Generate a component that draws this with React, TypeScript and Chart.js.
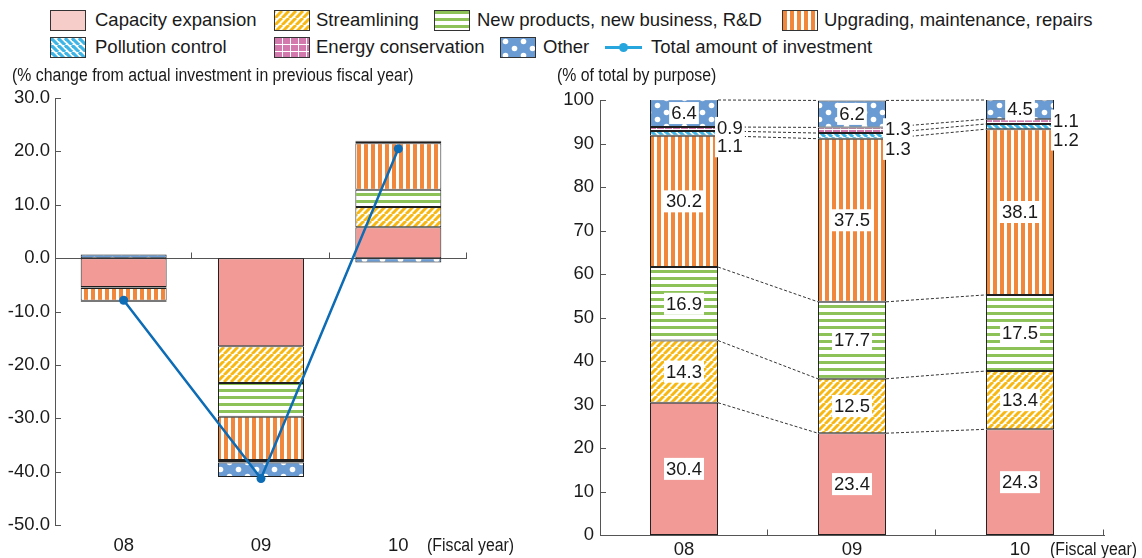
import React, { useEffect, useRef } from 'react';
import { Chart, registerables } from 'chart.js';

Chart.register(...registerables);

const FONT = "'Liberation Sans', Arial, Helvetica, sans-serif";
const TEXT = '#1a1a1a';

// Fiscal years
const years = ['08', '09', '10'];

// Investment purposes (stack order, bottom to top)
const purposes = [
  'Capacity expansion',
  'Streamlining',
  'New products, new business, R&D',
  'Upgrading, maintenance, repairs',
  'Pollution control',
  'Energy conservation',
  'Other',
];

// Contribution to % change from previous fiscal year (percentage points)
const changeCapacity = [-5.4, -16.5, 5.8];
const changeStreamlining = [-0.1, -6.9, 3.8];
const changeNewProducts = [-0.1, -6.3, 3.2];
const changeUpgrading = [-2.4, -8.1, 8.7];
const changePollution = [-0.1, -0.2, 0.3];
const changeEnergy = [-0.1, -0.3, 0.2];
const changeOther = [0.7, -2.7, -0.8];
const totalChange = [-7.9, -41.3, 20.5];

// Share of total investment by purpose (%)
const shareCapacity = [30.4, 23.4, 24.3];
const shareStreamlining = [14.3, 12.5, 13.4];
const shareNewProducts = [16.9, 17.7, 17.5];
const shareUpgrading = [30.2, 37.5, 38.1];
const sharePollution = [1.1, 1.3, 1.2];
const shareEnergy = [0.9, 1.3, 1.1];
const shareOther = [6.4, 6.2, 4.5];

// Axis ranges
const changeMin = -50;
const changeMax = 30;
const shareMin = 0;
const shareMax = 100;
const tickStep = 10;

type Fill = 'capacity' | 'streamlining' | 'newProducts' | 'upgrading' | 'pollution' | 'energy' | 'other';
const fills: Fill[] = ['capacity', 'streamlining', 'newProducts', 'upgrading', 'pollution', 'energy', 'other'];

const changeValues = [changeCapacity, changeStreamlining, changeNewProducts, changeUpgrading, changePollution, changeEnergy, changeOther];
const shareValues = [shareCapacity, shareStreamlining, shareNewProducts, shareUpgrading, sharePollution, shareEnergy, shareOther];
// where each share label sits: inside the segment, or beside the bar for the thin ones
const shareLabelPlace = ['center', 'center', 'center', 'center', 'below', 'beside', 'center'];

function makeTile(w: number, h: number, draw: (g: CanvasRenderingContext2D, w: number, h: number) => void) {
  const c = document.createElement('canvas');
  c.width = w;
  c.height = h;
  const g = c.getContext('2d') as CanvasRenderingContext2D;
  draw(g, w, h);
  return c;
}

function diagonal(color: string, rising: boolean, size: number, lw: number) {
  return makeTile(size, size, (g, w, h) => {
    g.fillStyle = '#ffffff';
    g.fillRect(0, 0, w, h);
    g.strokeStyle = color;
    g.lineWidth = lw;
    for (const o of [-w, 0, w]) {
      g.beginPath();
      if (rising) {
        g.moveTo(o, h);
        g.lineTo(o + w, 0);
      } else {
        g.moveTo(o, 0);
        g.lineTo(o + w, h);
      }
      g.stroke();
    }
  });
}

function buildTiles(): Record<Fill, HTMLCanvasElement> {
  return {
    capacity: makeTile(4, 4, (g, w, h) => {
      g.fillStyle = '#f29b96';
      g.fillRect(0, 0, w, h);
    }),
    streamlining: diagonal('#f7b813', true, 7, 3),
    newProducts: makeTile(4, 7, (g, w) => {
      g.fillStyle = '#ffffff';
      g.fillRect(0, 0, w, 7);
      g.fillStyle = '#8cc258';
      g.fillRect(0, 0, w, 3);
    }),
    upgrading: makeTile(7, 4, (g, w, h) => {
      g.fillStyle = '#ffffff';
      g.fillRect(0, 0, w, h);
      g.fillStyle = '#f0873a';
      g.fillRect(0, 0, 4, h);
    }),
    pollution: diagonal('#3fb5e6', false, 7, 3.2),
    energy: makeTile(8, 7, (g, w, h) => {
      g.fillStyle = '#d479ad';
      g.fillRect(0, 0, w, h);
      g.fillStyle = '#ffffff';
      g.fillRect(w - 1, 0, 1, h);
      g.fillRect(0, h - 1, w, 1);
    }),
    other: makeTile(18, 14, (g, w, h) => {
      g.fillStyle = '#6a9bd3';
      g.fillRect(0, 0, w, h);
      g.fillStyle = '#ffffff';
      for (const [cx, cy] of [[4.5, 3.5], [13.5, 10.5]]) {
        g.beginPath();
        g.arc(cx, cy, 2.8, 0, Math.PI * 2);
        g.fill();
      }
    }),
  };
}

function range(min: number, max: number, step: number) {
  const out: number[] = [];
  for (let v = min; v <= max + 1e-9; v += step) out.push(v);
  return out;
}

// Short tick marks pointing into the plot: on the value axis and at category boundaries
function innerTicks(baseAtZero: boolean) {
  return {
    id: 'innerTicks',
    beforeDatasetsDraw(chart: any) {
      const { ctx, chartArea, scales } = chart;
      const x = scales.x;
      const y = scales.y;
      ctx.save();
      ctx.strokeStyle = '#555';
      ctx.lineWidth = 1;
      range(y.min, y.max, tickStep).forEach((v) => {
        const py = Math.round(y.getPixelForValue(v)) + 0.5;
        ctx.beginPath();
        ctx.moveTo(chartArea.left, py);
        ctx.lineTo(chartArea.left + 6, py);
        ctx.stroke();
      });
      const base = Math.round(baseAtZero ? y.getPixelForValue(0) : chartArea.bottom) + 0.5;
      if (baseAtZero) {
        ctx.beginPath();
        ctx.moveTo(chartArea.left, base);
        ctx.lineTo(chartArea.right, base);
        ctx.stroke();
      }
      const half = (x.getPixelForValue(1) - x.getPixelForValue(0)) / 2;
      for (let i = 0; i < years.length; i++) {
        const px = Math.round(x.getPixelForValue(i) + half) - 0.5;
        ctx.beginPath();
        ctx.moveTo(px, base);
        ctx.lineTo(px, base - 6);
        ctx.stroke();
      }
      ctx.restore();
    },
  };
}

// Dashed lines joining matching segment boundaries of neighbouring bars
const connectors = {
  id: 'connectors',
  beforeDatasetsDraw(chart: any) {
    const { ctx } = chart;
    const y = chart.scales.y;
    ctx.save();
    ctx.strokeStyle = '#333';
    ctx.lineWidth = 1;
    ctx.setLineDash([3, 2]);
    for (let i = 0; i < years.length - 1; i++) {
      let cumA = 0;
      let cumB = 0;
      shareValues.forEach((vals, k) => {
        cumA += vals[i];
        cumB += vals[i + 1];
        const a = chart.getDatasetMeta(k).data[i];
        const b = chart.getDatasetMeta(k).data[i + 1];
        ctx.beginPath();
        ctx.moveTo(a.x + a.width / 2, y.getPixelForValue(Math.min(cumA, shareMax)));
        ctx.lineTo(b.x - b.width / 2, y.getPixelForValue(Math.min(cumB, shareMax)));
        ctx.stroke();
      });
    }
    ctx.restore();
  },
};

// Value labels on white boxes
const shareLabels = {
  id: 'shareLabels',
  afterDatasetsDraw(chart: any) {
    const { ctx } = chart;
    const y = chart.scales.y;
    ctx.save();
    ctx.font = `18.5px ${FONT}`;
    ctx.textBaseline = 'middle';
    for (let i = 0; i < years.length; i++) {
      let cum = 0;
      shareValues.forEach((vals, k) => {
        const v = vals[i];
        const el = chart.getDatasetMeta(k).data[i];
        const mid = y.getPixelForValue(Math.min(cum + v / 2, shareMax));
        const text = v.toFixed(1);
        const w = ctx.measureText(text).width;
        let tx = el.x - w / 2;
        let ty = mid;
        if (shareLabelPlace[k] === 'beside') {
          tx = el.x + el.width / 2 - 1;
          ty = mid - 1;
        } else if (shareLabelPlace[k] === 'below') {
          tx = el.x + el.width / 2 - 1;
          ty = mid + 13;
        }
        ctx.fillStyle = '#ffffff';
        ctx.fillRect(tx - 2, ty - 11, w + 4, 22);
        ctx.fillStyle = TEXT;
        ctx.fillText(text, tx, ty + 1);
        cum += v;
      });
    }
    ctx.restore();
  },
};

const legendRows: { fill: Fill | 'line'; label: string; sx: number; tx: number; row: number }[] = [
  { fill: 'capacity', label: purposes[0], sx: 50, tx: 95, row: 0 },
  { fill: 'streamlining', label: purposes[1], sx: 274, tx: 316, row: 0 },
  { fill: 'newProducts', label: purposes[2], sx: 434, tx: 477, row: 0 },
  { fill: 'upgrading', label: purposes[3], sx: 782, tx: 824, row: 0 },
  { fill: 'pollution', label: purposes[4], sx: 50, tx: 95, row: 1 },
  { fill: 'energy', label: purposes[5], sx: 274, tx: 316, row: 1 },
  { fill: 'other', label: purposes[6], sx: 500, tx: 543, row: 1 },
  { fill: 'line', label: 'Total amount of investment', sx: 605, tx: 651, row: 1 },
];

function Narrow({ left, top, children }: { left: number; top: number; children: React.ReactNode }) {
  return (
    <div
      style={{
        position: 'absolute',
        left,
        top,
        fontFamily: FONT,
        fontSize: 18,
        lineHeight: '22px',
        color: TEXT,
        whiteSpace: 'nowrap',
        transform: 'scaleX(0.88)',
        transformOrigin: 'left center',
      }}
    >
      {children}
    </div>
  );
}

export default function App() {
  const leftRef = useRef<HTMLCanvasElement>(null);
  const rightRef = useRef<HTMLCanvasElement>(null);
  const [swatches, setSwatches] = React.useState<Record<string, string>>({});

  useEffect(() => {
    const tiles = buildTiles();
    const urls: Record<string, string> = {};
    fills.forEach((f) => {
      urls[f] = tiles[f].toDataURL();
    });
    setSwatches(urls);

    const pattern = (f: Fill) => {
      const g = document.createElement('canvas').getContext('2d') as CanvasRenderingContext2D;
      return g.createPattern(tiles[f], 'repeat') as CanvasPattern;
    };

    const tickFont = { family: FONT, size: 18.5 };

    const left = new Chart(leftRef.current as HTMLCanvasElement, {
      type: 'bar',
      data: {
        labels: years,
        datasets: [
          {
            type: 'line',
            label: 'Total amount of investment',
            data: totalChange,
            borderColor: '#0d6cb6',
            backgroundColor: '#0d6cb6',
            borderWidth: 2.5,
            pointRadius: 4.5,
            pointBorderWidth: 0,
            pointBackgroundColor: '#0d6cb6',
            stack: 'total',
            order: 0,
          } as any,
          ...changeValues.map((vals, k) => ({
            type: 'bar' as const,
            label: purposes[k],
            data: vals,
            backgroundColor: pattern(fills[k]),
            borderColor: '#1f1f1f',
            borderWidth: 1,
            borderSkipped: false,
            stack: 'purpose',
            order: 1,
            barPercentage: 0.626,
            categoryPercentage: 1,
          })),
        ],
      },
      options: {
        animation: false,
        responsive: false,
        maintainAspectRatio: false,
        layout: { padding: { top: 38, right: 78, left: 0, bottom: 0 } },
        plugins: { legend: { display: false }, tooltip: { enabled: false } },
        scales: {
          x: {
            stacked: true,
            grid: { display: false, drawTicks: false },
            border: { display: false },
            ticks: { padding: 10, color: TEXT, font: tickFont },
            afterFit: (s: any) => {
              s.height = 33;
            },
          },
          y: {
            stacked: true,
            min: changeMin,
            max: changeMax,
            grid: { display: false, drawTicks: false },
            border: { display: true, color: '#555', width: 1 },
            ticks: {
              stepSize: tickStep,
              padding: 5,
              color: TEXT,
              font: tickFont,
              callback: (v: any) => Number(v).toFixed(1),
            },
            afterFit: (s: any) => {
              s.width = 55;
            },
          },
        },
      },
      plugins: [innerTicks(true)],
    });

    const right = new Chart(rightRef.current as HTMLCanvasElement, {
      type: 'bar',
      data: {
        labels: years,
        datasets: shareValues.map((vals, k) => ({
          label: purposes[k],
          data: vals,
          backgroundColor: pattern(fills[k]),
          borderColor: '#1f1f1f',
          borderWidth: 1,
          borderSkipped: false,
          barPercentage: 0.405,
          categoryPercentage: 1,
        })),
      },
      options: {
        animation: false,
        responsive: false,
        maintainAspectRatio: false,
        layout: { padding: { top: 40, right: 38, left: 0, bottom: 0 } },
        plugins: { legend: { display: false }, tooltip: { enabled: false } },
        scales: {
          x: {
            stacked: true,
            grid: { display: false, drawTicks: false },
            border: { display: true, color: '#555', width: 1 },
            ticks: { padding: 4, color: TEXT, font: tickFont },
            afterFit: (s: any) => {
              s.height = 23;
            },
          },
          y: {
            stacked: true,
            min: shareMin,
            max: shareMax,
            grid: { display: false, drawTicks: false },
            border: { display: true, color: '#555', width: 1 },
            ticks: { stepSize: tickStep, padding: 6, color: TEXT, font: tickFont },
            afterFit: (s: any) => {
              s.width = 55;
            },
          },
        },
      },
      plugins: [innerTicks(false), connectors, shareLabels],
    });

    return () => {
      left.destroy();
      right.destroy();
    };
  }, []);

  const textStyle: React.CSSProperties = {
    position: 'absolute',
    fontFamily: FONT,
    fontSize: 18.5,
    color: TEXT,
    whiteSpace: 'nowrap',
    lineHeight: '22px',
  };

  return (
    <div style={{ position: 'absolute', left: 0, top: 0, width: 1142, height: 558, background: '#fff', overflow: 'hidden' }}>
      <canvas ref={leftRef} width={545} height={498} style={{ position: 'absolute', left: 0, top: 60, width: 545, height: 498 }} />
      <canvas ref={rightRef} width={597} height={498} style={{ position: 'absolute', left: 545, top: 60, width: 597, height: 498 }} />

      {legendRows.map((item) => {
        const cy = item.row === 0 ? 20 : 47;
        return (
          <React.Fragment key={item.label}>
            {item.fill === 'line' ? (
              <div style={{ position: 'absolute', left: item.sx, top: cy - 10, width: 37, height: 20 }}>
                <div style={{ position: 'absolute', left: 0, top: 9, width: 37, height: 2.5, background: '#27a6de' }} />
                <div style={{ position: 'absolute', left: 14, top: 6, width: 9, height: 9, borderRadius: '50%', background: '#27a6de' }} />
              </div>
            ) : (
              <div
                style={{
                  position: 'absolute',
                  left: item.sx,
                  top: cy - 10,
                  width: 34,
                  height: 19,
                  border: '1px solid #333',
                  background: item.fill === 'capacity' ? '#f7cdc9' : swatches[item.fill] ? `url(${swatches[item.fill]})` : '#fff',
                }}
              />
            )}
            <div style={{ ...textStyle, left: item.tx, top: cy - 11 }}>{item.label}</div>
          </React.Fragment>
        );
      })}

      <Narrow left={12} top={64}>(% change from actual investment in previous fiscal year)</Narrow>
      <Narrow left={557} top={64}>(% of total by purpose)</Narrow>
      <Narrow left={427} top={534}>(Fiscal year)</Narrow>
      <Narrow left={1050} top={538}>(Fiscal year)</Narrow>
    </div>
  );
}
